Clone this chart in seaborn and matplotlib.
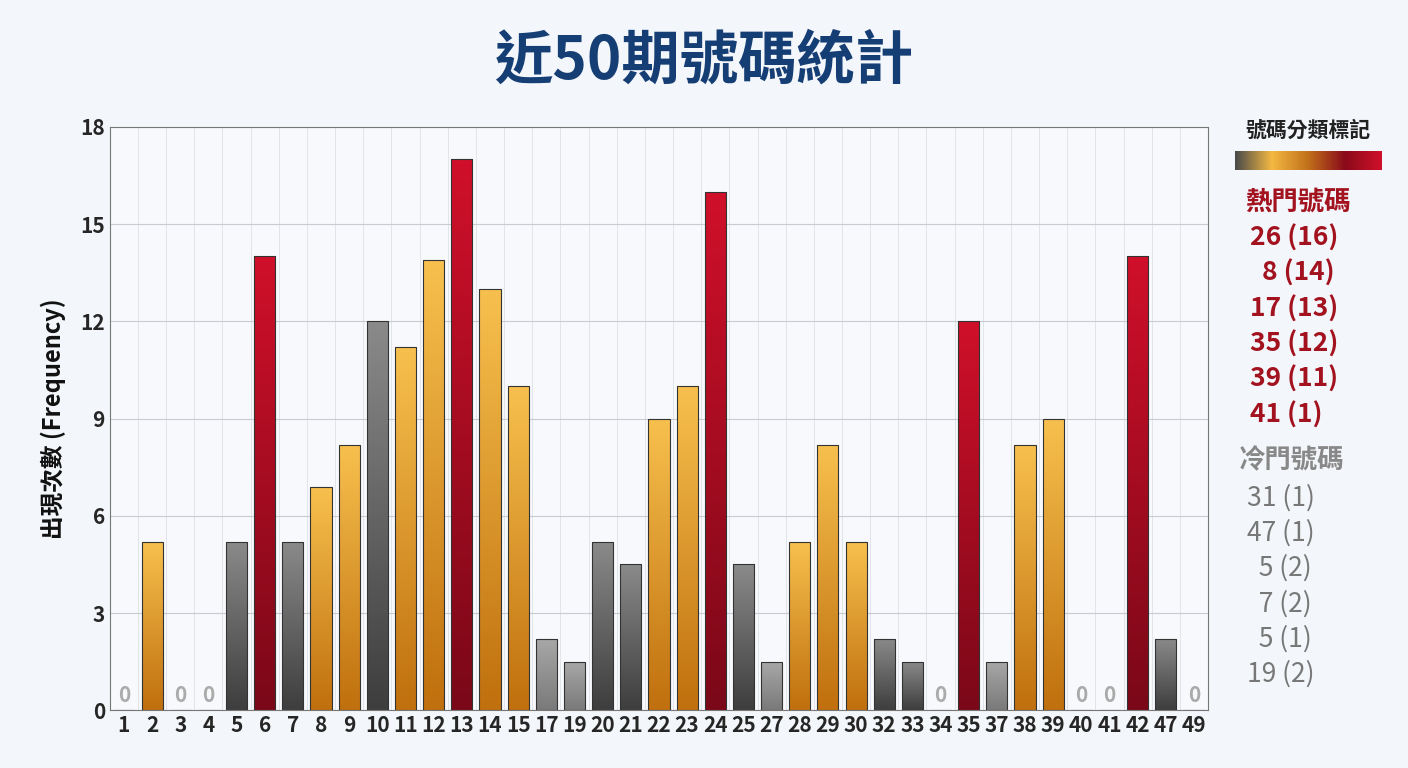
import numpy as np
import pandas as pd
import matplotlib.pyplot as plt
import seaborn as sns
from matplotlib.colors import LinearSegmentedColormap

numbers = ['1','2','3','4','5','6','7','8','9','10','11','12','13','14','15','17','19','20','21','22',
           '23','24','25','27','28','29','30','32','33','34','35','37','38','39','40','41','42','47','49']
counts = [0,5.2,0,0,5.2,14,5.2,6.9,8.2,12,11.2,13.9,17,13,10,2.2,1.5,5.2,4.5,9,
          10,16,4.5,1.5,5.2,8.2,5.2,2.2,1.5,0,12,1.5,8.2,9,0,0,14,2.2,0]
groups = ['w','o','w','w','g','r','g','o','o','g','o','o','r','o','o','l','l','g','g','o',
          'o','r','g','l','o','o','o','g','g','w','r','l','o','o','w','w','r','g','w']
hot_list = ['26 (16)', '  8 (14)', '17 (13)', '35 (12)', '39 (11)', '41 (1)']
cold_list = ['31 (1)', '47 (1)', '  5 (2)', '  7 (2)', '  5 (1)', '19 (2)']

# top/bottom colours of each bar group
grad = {'r': ('#d0102a', '#7a0818'), 'o': ('#f7c04e', '#c0700e'),
        'g': ('#8a8a8a', '#3e3e3e'), 'l': ('#a8a8a8', '#7a7a7a'), 'w': ('#cccccc', '#cccccc')}

sns.set_style('white')
plt.rcParams['font.family'] = ['Noto Sans CJK TC', 'DejaVu Sans']

fig = plt.figure(figsize=(14.08, 7.68), dpi=100)
fig.patch.set_facecolor('#f3f6fa')
ax = fig.add_axes([0.078, 0.075, 0.78, 0.76])
ax.set_facecolor('#f7f9fc')

df = pd.DataFrame({'num': numbers, 'count': counts})
sns.barplot(data=df, x='num', y='count', ax=ax, width=0.75, color='#cccccc', edgecolor='#333333', linewidth=0.8)
ax.set_ylim(0, 18)

for p, g in zip(ax.patches, groups):
    h = p.get_height()
    if h <= 0:
        continue
    top, bot = grad[g]
    cmap = LinearSegmentedColormap.from_list('b', [bot, top])
    x0 = p.get_x()
    im = ax.imshow(np.linspace(0, 1, 100).reshape(-1, 1), cmap=cmap, aspect='auto', origin='lower',
                   extent=[x0, x0 + p.get_width(), 0, h], zorder=p.get_zorder() + 0.1)
    im.set_clip_path(p)
    p.set_facecolor('none')
    p.set_zorder(p.get_zorder() + 0.2)

for i, c in enumerate(counts):
    if c == 0:
        ax.text(i, 0.45, '0', ha='center', va='center', fontsize=15, color='#aaaaaa', fontweight='bold')

ax.set_xlim(-0.5, len(numbers) - 0.5)
ax.set_yticks(range(0, 19, 3))
ax.set_xticks(np.arange(-0.5, len(numbers), 0.5), minor=True)
ax.grid(axis='y', color='#c8ccd2', linewidth=0.8)
ax.grid(axis='x', which='minor', color='#dde0e5', linewidth=0.6)
ax.set_axisbelow(True)
for s in ax.spines.values():
    s.set_color('#777777')
ax.tick_params(axis='both', labelsize=15, length=0)
for t in ax.get_xticklabels() + ax.get_yticklabels():
    t.set_fontweight('bold')
ax.set_xlabel('')
ax.set_ylabel('出現次數 (Frequency)', fontsize=17, fontweight='bold', labelpad=10, color='#111111')

fig.text(0.5, 0.92, '近50期號碼統計', ha='center', va='center', fontsize=42, fontweight='bold', color='#153e75')

# right side legend
fig.text(0.929, 0.83, '號碼分類標記', ha='center', va='center', fontsize=15, fontweight='bold', color='#222222')
cax = fig.add_axes([0.877, 0.778, 0.104, 0.025])
cbar = LinearSegmentedColormap.from_list('lg', ['#4a4a4a', '#f4b942', '#c0701a', '#8a0a1a', '#d0102a'])
cax.imshow(np.linspace(0, 1, 200).reshape(1, -1), cmap=cbar, aspect='auto')
cax.axis('off')

fig.text(0.884, 0.737, '熱門號碼', ha='left', va='center', fontsize=19, fontweight='bold', color='#a3131f')
for k, s in enumerate(hot_list):
    fig.text(0.888, 0.69 - k * 0.046, s, ha='left', va='center', fontsize=19, fontweight='bold', color='#a3131f')
fig.text(0.88, 0.4, '冷門號碼', ha='left', va='center', fontsize=19, fontweight='bold', color='#888888')
for k, s in enumerate(cold_list):
    fig.text(0.886, 0.352 - k * 0.046, s, ha='left', va='center', fontsize=19, color='#777777')

fig.savefig('out.png', dpi=100, facecolor=fig.get_facecolor())
